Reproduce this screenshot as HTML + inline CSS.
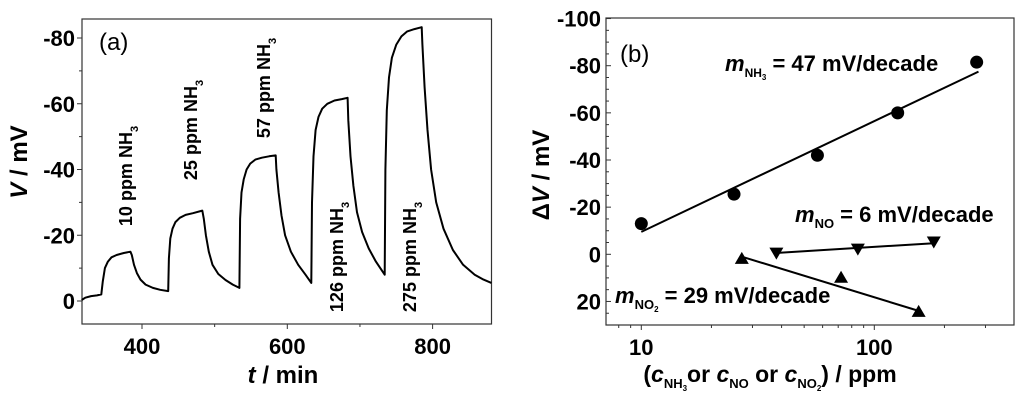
<!DOCTYPE html>
<html><head><meta charset="utf-8">
<style>
html,body{margin:0;padding:0;background:#fff;}
svg{display:block;font-family:"Liberation Sans",Arial,sans-serif;}
text{font-weight:bold;fill:#000;}
</style></head>
<body>
<svg id="chart" width="1024" height="401" viewBox="0 0 1024 401" xmlns="http://www.w3.org/2000/svg">
<g id="pa"></g>
<g id="pb"></g>
</svg>
<script>
// ---------- Panel (a) data ----------
const timeMin = [317,322,330,338,344,346,349,353,358,365,375,384,386,389,393,398,405,415,425,436,437,439,442,446,452,460,470,483,485,488,492,497,505,515,525,534,535,537,540,544,549,556,565,575,584,585,588,592,597,605,615,625,633,634,636,639,643,648,655,665,675,683,684,687,691,696,703,712,722,734,735,737,740,744,750,757,765,775,785,786,789,793,798,805,815,828,842,858,870,881];
const voltage = [-0.3,-1,-1.5,-1.7,-2,-6,-10,-12,-13.3,-14,-14.6,-15,-14,-11,-8.5,-6.5,-5,-4,-3.4,-3,-13,-19,-22,-24,-25.3,-26.2,-26.7,-27.5,-25,-20,-15,-11,-8.2,-6.4,-5,-4,-25,-33,-37,-40,-41.8,-43,-43.6,-44,-44.3,-40,-33,-26,-20,-15,-11,-8,-5.5,-30,-44,-52,-56,-58.5,-60,-61,-61.4,-61.8,-55,-44,-35,-27,-21,-16,-12,-8,-40,-58,-68,-74,-78,-80.5,-82,-82.7,-83.3,-78,-65,-52,-40,-30,-22,-15.5,-11,-8,-6.5,-5.5];
const aXTicks = [400,600,800];
const aXMinor = [500,700];
const aYTicks = [0,-20,-40,-60,-80];
const aYMinor = [-10,-30,-50,-70];
const aLabels = [
  {t:"10 ppm NH", x:125, y:176},
  {t:"25 ppm NH", x:190, y:130},
  {t:"57 ppm NH", x:263, y:88},
  {t:"126 ppm NH", x:336, y:257},
  {t:"275 ppm NH", x:409, y:257}
];
// ---------- Panel (b) data ----------
const nh3Conc = [10,25,57,126,275];
const nh3DV = [-13,-25.5,-42,-60,-81.5];
const nh3Fit = [[10,-9.5],[280,-77.5]];
const noConc = [38,85,180];
const noDV = [-0.3,-2,-5];
const noFit = [[37,-0.5],[180,-4.7]];
const no2Conc = [27,72,155];
const no2DV = [1.5,9.5,24];
const no2Fit = [[27,1],[155,24]];
const bYTicks = [-100,-80,-60,-40,-20,0,20];
const bXTicks = [10,100];

const NS="http://www.w3.org/2000/svg";
function mk(parent,tag,attrs){const e=document.createElementNS(NS,tag);for(const k in attrs)e.setAttribute(k,attrs[k]);parent.appendChild(e);return e;}

// ===== Panel A =====
const pa=document.getElementById('pa');
const aL=82,aR=491.5,aT=19,aB=324;
const ax=t=>142+(t-400)*(145.3/200);
const ay=v=>301+v*(263/80);
let f=mk(pa,'rect',{x:aL,y:aT,width:aR-aL,height:aB-aT,fill:'none',stroke:'#333','stroke-width':1.2});

aXTicks.forEach(t=>{mk(pa,'line',{x1:ax(t),x2:ax(t),y1:aB,y2:aB+5,stroke:'#333'});
 const tx=mk(pa,'text',{x:ax(t),y:aB+30,'text-anchor':'middle','font-size':22});tx.textContent=t;
 });
aXMinor.forEach(t=>mk(pa,'line',{x1:ax(t),x2:ax(t),y1:aB,y2:aB+3,stroke:'#333'}));
aYTicks.forEach(v=>{mk(pa,'line',{x1:aL-5,x2:aL,y1:ay(v),y2:ay(v),stroke:'#333'});
 const tx=mk(pa,'text',{x:aL-7,y:ay(v)+8,'text-anchor':'end','font-size':22});tx.textContent=v;
 });
aYMinor.forEach(v=>mk(pa,'line',{x1:aL-3,x2:aL,y1:ay(v),y2:ay(v),stroke:'#333'}));
let pts=timeMin.map((t,i)=>ax(t).toFixed(1)+','+ay(voltage[i]).toFixed(1)).join(' ');
let pl=mk(pa,'polyline',{points:pts,fill:'none',stroke:'#000','stroke-width':2,'stroke-linejoin':'round'});

aLabels.forEach(l=>{const tx=mk(pa,'text',{x:0,y:0,'text-anchor':'middle','font-size':18,transform:`translate(${l.x+7},${l.y}) rotate(-90)`});
 tx.innerHTML=l.t+'<tspan font-size="11" dy="6">3</tspan>';
 });
let t1=mk(pa,'text',{x:99,y:50,'font-size':24});t1.style.fontWeight='normal';t1.textContent='(a)';

let yt=mk(pa,'text',{x:0,y:0,'text-anchor':'middle','font-size':24,transform:'translate(27,162) rotate(-90)'});
yt.innerHTML='<tspan font-style="italic">V</tspan> / mV';

let xt=mk(pa,'text',{x:283,y:383,'text-anchor':'middle','font-size':24});
xt.innerHTML='<tspan font-style="italic">t</tspan> / min';


// ===== Panel B =====
const pb=document.getElementById('pb');
const bL=606,bR=1014,bT=18,bB=325;
const bx=c=>641.3+(Math.log10(c)-1)*233;
const by=v=>254.3+v*(47.15/20);
f=mk(pb,'rect',{x:bL,y:bT,width:bR-bL,height:bB-bT,fill:'none',stroke:'#333','stroke-width':1.2});

bYTicks.forEach(v=>{mk(pb,'line',{x1:bL,x2:bL+5,y1:by(v),y2:by(v),stroke:'#333'});
 const tx=mk(pb,'text',{x:bL-5,y:by(v)+8,'text-anchor':'end','font-size':22});tx.textContent=v;
 });
for(let v=-95;v<=30;v+=5){if(v%20)mk(pb,'line',{x1:bL,x2:bL+3,y1:by(v),y2:by(v),stroke:'#333'});}
bXTicks.forEach(c=>{mk(pb,'line',{x1:bx(c),x2:bx(c),y1:bB,y2:bB+5,stroke:'#333'});
 const tx=mk(pb,'text',{x:bx(c),y:bB+30,'text-anchor':'middle','font-size':22});tx.textContent=c;
 });
[8,9,20,30,40,50,60,70,80,90,200,300].forEach(c=>mk(pb,'line',{x1:bx(c),x2:bx(c),y1:bB,y2:bB+3,stroke:'#333'}));
function fit(arr,name){const l=mk(pb,'line',{x1:bx(arr[0][0]),y1:by(arr[0][1]),x2:bx(arr[1][0]),y2:by(arr[1][1]),stroke:'#000','stroke-width':2});
 }
fit(nh3Fit,'nh3-fit-line');fit(noFit,'no-fit-line');fit(no2Fit,'no2-fit-line');
nh3Conc.forEach((c,i)=>{const p=mk(pb,'circle',{cx:bx(c),cy:by(nh3DV[i]),r:6.5,fill:'#000'});
 });
noConc.forEach((c,i)=>{const x=bx(c),y=by(noDV[i]);const p=mk(pb,'polygon',{points:`${x-7},${y-6} ${x+7},${y-6} ${x},${y+6}`,fill:'#000'});
 });
no2Conc.forEach((c,i)=>{const x=bx(c),y=by(no2DV[i]);const p=mk(pb,'polygon',{points:`${x-7},${y+6} ${x+7},${y+6} ${x},${y-6}`,fill:'#000'});
 });
let tb=mk(pb,'text',{x:620,y:62,'font-size':24});tb.style.fontWeight='normal';tb.textContent='(b)';

let a1=mk(pb,'text',{x:725,y:71,'font-size':22});
a1.innerHTML='<tspan font-style="italic">m</tspan><tspan font-size="12" dy="6">NH</tspan><tspan font-size="8" dy="3">3</tspan><tspan dy="-9"> = 47 mV/decade</tspan>';

let a2=mk(pb,'text',{x:795,y:222,'font-size':22});
a2.innerHTML='<tspan font-style="italic">m</tspan><tspan font-size="13" dy="6">NO</tspan><tspan dy="-6"> = 6 mV/decade</tspan>';

let a3=mk(pb,'text',{x:615,y:303,'font-size':22});
a3.innerHTML='<tspan font-style="italic">m</tspan><tspan font-size="13" dy="6">NO</tspan><tspan font-size="8" dy="3">2</tspan><tspan dy="-9"> = 29 mV/decade</tspan>';

let yb=mk(pb,'text',{x:0,y:0,'text-anchor':'middle','font-size':24,transform:'translate(549,175) rotate(-90)'});
yb.innerHTML='Δ<tspan font-style="italic">V</tspan>  / mV';

let xb=mk(pb,'text',{x:770,y:382,'text-anchor':'middle','font-size':23});
xb.innerHTML='(<tspan font-style="italic">c</tspan><tspan font-size="13" dy="6">NH</tspan><tspan font-size="8" dy="3">3</tspan><tspan dy="-9">or </tspan><tspan font-style="italic">c</tspan><tspan font-size="13" dy="6">NO</tspan><tspan dy="-6"> or </tspan><tspan font-style="italic">c</tspan><tspan font-size="13" dy="6">NO</tspan><tspan font-size="8" dy="3">2</tspan><tspan dy="-9">) / ppm</tspan>';

</script>
</body></html>
